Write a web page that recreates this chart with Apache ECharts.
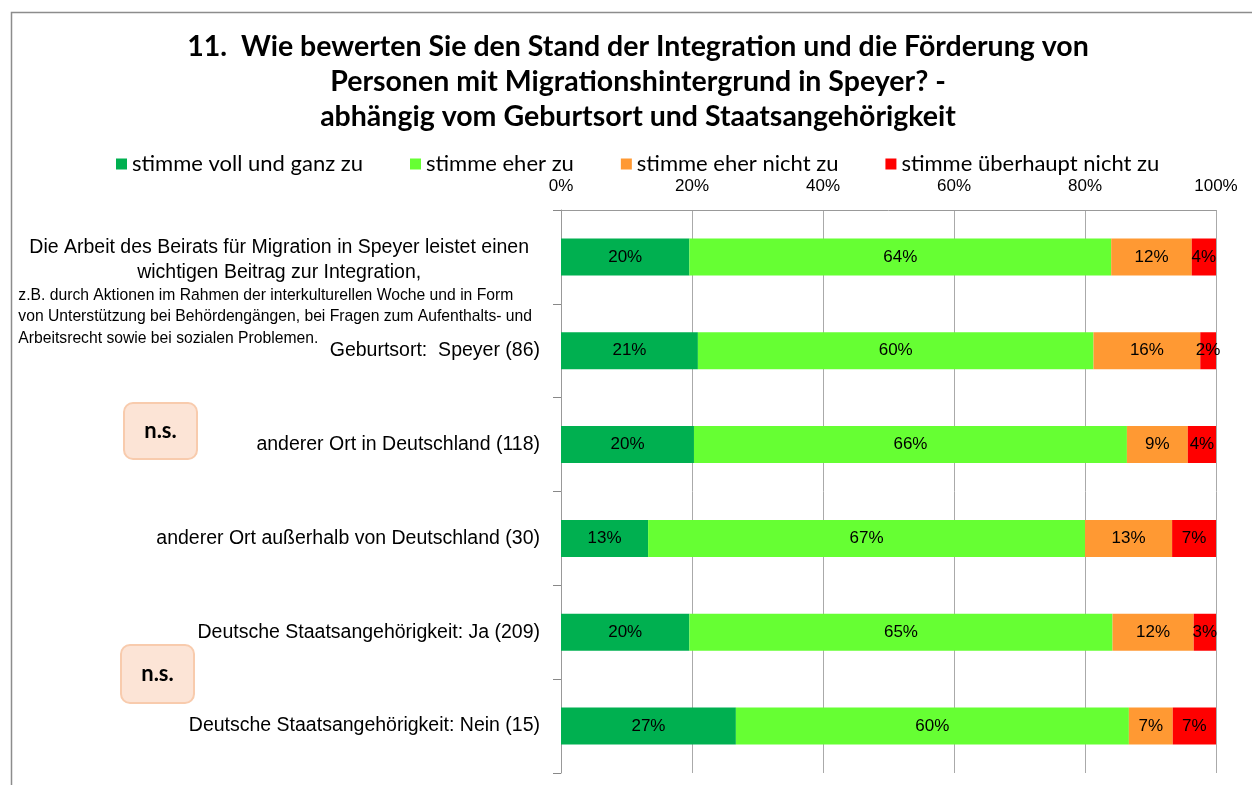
<!DOCTYPE html>
<html>
<head>
<meta charset="utf-8">
<script src="https://cdn.jsdelivr.net/npm/echarts@6/dist/echarts.min.js"></script>
<style>
  html, body { margin: 0; padding: 0; background: #fff; }
  #chart { width: 1252px; height: 785px; }
</style>
</head>
<body>
<div id="chart"></div>
<script>
// Kategorien (von oben nach unten)
const categories = [
  'Die Arbeit des Beirats für Migration in Speyer leistet einen\nwichtigen Beitrag zur Integration,\nz.B. durch Aktionen im Rahmen der interkulturellen Woche und in Form\nvon Unterstützung bei Behördengängen, bei Fragen zum Aufenthalts- und\nArbeitsrecht sowie bei sozialen Problemen.',
  'Geburtsort:  Speyer (86)',
  'anderer Ort in Deutschland (118)',
  'anderer Ort außerhalb von Deutschland (30)',
  'Deutsche Staatsangehörigkeit: Ja (209)',
  'Deutsche Staatsangehörigkeit: Nein (15)'
];

const seriesNames = ['stimme voll und ganz zu', 'stimme eher zu', 'stimme eher nicht zu', 'stimme überhaupt nicht zu'];

// Anteile in Prozent
const vollUndGanz = [19.6, 20.9, 20.3, 13.3, 19.6, 26.7];
const eherZu = [64.4, 60.4, 66.1, 66.7, 64.6, 60.0];
const eherNicht = [12.3, 16.3, 9.3, 13.3, 12.4, 6.7];
const ueberhauptNicht = [3.7, 2.4, 4.3, 6.7, 3.4, 6.6];

const axisTicks = [0, 20, 40, 60, 80, 100];

const colors = ['#00b050', '#66ff33', '#ff9933', '#ff0000'];
const nsMarks = ['n.s.', 'n.s.'];

const chart = echarts.init(document.getElementById('chart'));

const makeSeries = (name, data, i) => ({
  name: name,
  type: 'bar',
  stack: 'total',
  data: data,
  barWidth: 37,
  itemStyle: { color: colors[i] },
  label: {
    show: true,
    position: 'inside',
    color: '#000',
    fontFamily: 'Liberation Sans',
    fontSize: 17,
    formatter: p => Math.round(p.value) + '%'
  }
});

// erste Kategorie: mehrzeiliges Label mit kleinem Zusatztext
const firstLabel = (text) => {
  const lines = text.split('\n');
  let out = '{sp|}';
  lines.forEach((l, i) => {
    out += '\n' + (i < 2 ? '{big|' + l + '}' : '{small|' + l + '}');
  });
  return out;
};

const option = {
  backgroundColor: '#fff',
  animation: false,
  title: {
    text: '11.  Wie bewerten Sie den Stand der Integration und die Förderung von\nPersonen mit Migrationshintergrund in Speyer? -\nabhängig vom Geburtsort und Staatsangehörigkeit',
    left: 633,
    top: 24,
    textAlign: 'center',
    textStyle: {
      fontFamily: 'Lato',
      fontWeight: 'bold',
      fontSize: 28.5,
      lineHeight: 35,
      color: '#000'
    }
  },
  legend: {
    data: seriesNames,
    left: 116,
    top: 153,
    padding: 0,
    icon: 'rect',
    itemWidth: 11,
    itemHeight: 11,
    itemGap: 47,
    textStyle: { fontFamily: 'Lato', fontSize: 22, color: '#000' }
  },
  grid: { left: 561, right: 36, top: 210, bottom: 12 },
  xAxis: {
    type: 'value',
    position: 'top',
    min: axisTicks[0],
    max: axisTicks[axisTicks.length - 1],
    interval: 20,
    axisLine: { show: true, lineStyle: { color: '#999' } },
    axisTick: { show: false },
    splitLine: { show: true, lineStyle: { color: '#aaa' } },
    axisLabel: {
      margin: 15,
      color: '#000',
      fontFamily: 'Liberation Sans',
      fontSize: 17,
      formatter: '{value}%'
    }
  },
  yAxis: {
    type: 'category',
    inverse: true,
    data: categories,
    axisLine: { show: true, lineStyle: { color: '#999' } },
    axisTick: { show: true, length: 8, lineStyle: { color: '#888' } },
    axisLabel: {
      interval: 0,
      showMinLabel: true,
      showMaxLabel: true,
      hideOverlap: false,
      margin: 21,
      color: '#000',
      fontFamily: 'Liberation Sans',
      fontSize: 19.5,
      formatter: (v, idx) => idx === 0 ? firstLabel(v) : v,
      rich: {
        sp: { height: 70, lineHeight: 70 },
        big: { fontFamily: 'Liberation Sans', fontSize: 19.5, lineHeight: 25, align: 'center', color: '#000' },
        small: { fontFamily: 'Liberation Sans', fontSize: 15.7, lineHeight: 21.5, align: 'left', color: '#000', padding: [0, 8, 0, 0] }
      }
    }
  },
  series: [
    makeSeries(seriesNames[0], vollUndGanz, 0),
    makeSeries(seriesNames[1], eherZu, 1),
    makeSeries(seriesNames[2], eherNicht, 2),
    makeSeries(seriesNames[3], ueberhauptNicht, 3)
  ],
  graphic: [
    {
      type: 'rect',
      shape: { x: 11.5, y: 12.5, width: 1300, height: 900 },
      style: { fill: 'none', stroke: '#8c8c8c', lineWidth: 1.5 },
      silent: true
    },
    {
      type: 'rect',
      shape: { x: 124, y: 403, width: 73, height: 56, r: 9 },
      style: { fill: '#fce4d6', stroke: '#f8cbad', lineWidth: 2 }
    },
    {
      type: 'text',
      x: 160.5, y: 431,
      style: { text: nsMarks[0], fontFamily: 'Lato', fontWeight: 'bold', fontSize: 22, fill: '#000', align: 'center', verticalAlign: 'middle' }
    },
    {
      type: 'rect',
      shape: { x: 121, y: 645, width: 73, height: 58, r: 9 },
      style: { fill: '#fce4d6', stroke: '#f8cbad', lineWidth: 2 }
    },
    {
      type: 'text',
      x: 157.5, y: 674,
      style: { text: nsMarks[1], fontFamily: 'Lato', fontWeight: 'bold', fontSize: 22, fill: '#000', align: 'center', verticalAlign: 'middle' }
    }
  ]
};

chart.setOption(option);
</script>
</body>
</html>
